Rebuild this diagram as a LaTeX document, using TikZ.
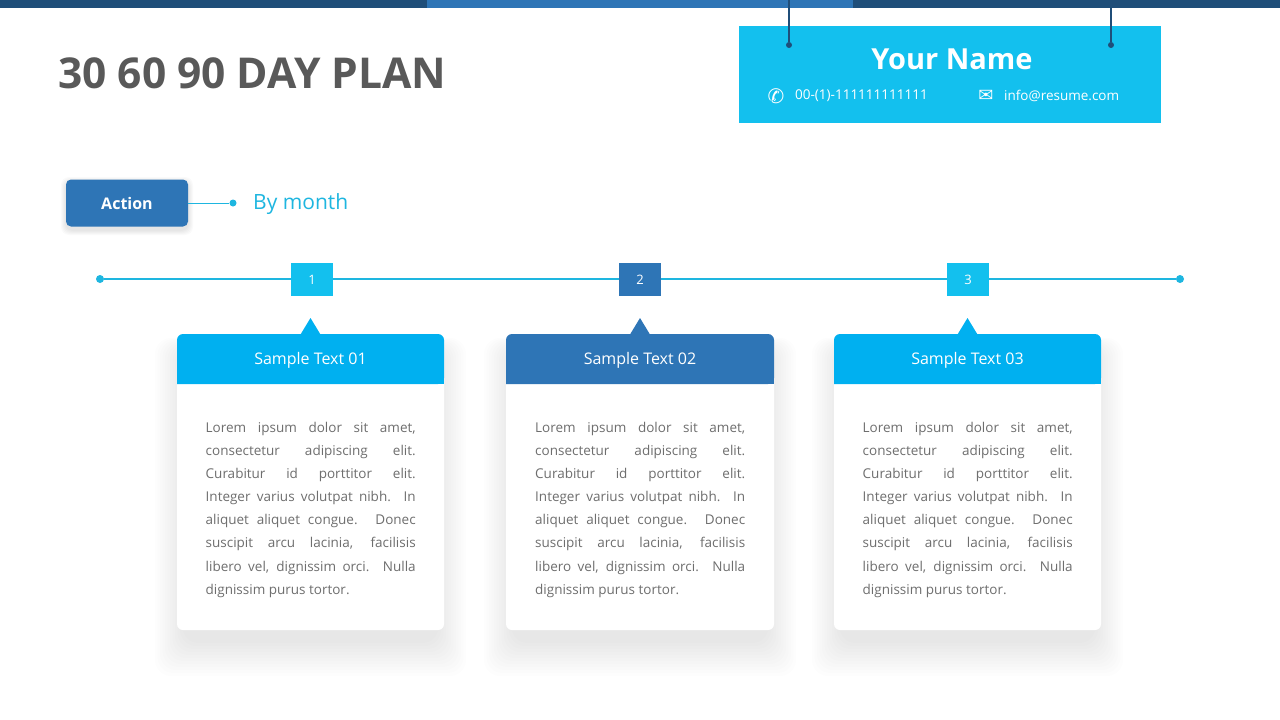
\documentclass[tikz,border=0pt]{standalone}
\usepackage{fontspec}
\setmainfont{Open Sans}
\newfontfamily\symf{DejaVu Sans}
\definecolor{navy}{HTML}{1F4E79}
\definecolor{midblue}{HTML}{2E75B6}
\definecolor{cyanA}{HTML}{13C0EE}
\definecolor{cyanB}{HTML}{00B0F0}
\definecolor{lineC}{HTML}{1EB6E0}
\definecolor{txtgrey}{HTML}{595959}
\definecolor{bodygrey}{HTML}{6E6E6E}
\tikzset{
  px/.style={x=1pt,y=-1pt},
  bodytxt/.style={text width=210pt,align=justify,anchor=north west,inner sep=0pt,text=bodygrey,font=\fontsize{13.5}{23.1}\selectfont},
  hdrtxt/.style={text=white,font=\fontsize{16}{19}\selectfont},
  numbox/.style={minimum width=42pt,minimum height=33pt,inner sep=0pt,text=white,font=\fontsize{13}{15}\selectfont},
  dotc/.style={circle,fill=lineC,inner sep=0pt,minimum size=8pt},
}
\begin{document}
\begin{tikzpicture}[px]
\useasboundingbox[fill=white] (0,0) rectangle (1280,720);
% top bar
\fill[navy] (0,0) rectangle (427,8);
\fill[midblue] (427,0) rectangle (853,8);
\fill[navy] (853,0) rectangle (1280,8);
% title
\node[anchor=west,inner sep=0pt,text=txtgrey,font=\fontsize{42.5}{48}\bfseries\selectfont] (title) at (58,73) {30 60 90 DAY PLAN};
% name box
\fill[cyanA] (739,26) rectangle (1161,123);
\coordinate (t1) at (789,0); \coordinate (t2) at (1111,0);
\node[circle,fill=navy,inner sep=0pt,minimum size=6pt] (d1) at (789,45) {};
\node[circle,fill=navy,inner sep=0pt,minimum size=6pt] (d2) at (1111,45) {};
\draw[navy,line width=1.5pt] (t1) -- (d1);
\draw[navy,line width=1.5pt] (t2) -- (d2);
\node[text=white,font=\fontsize{29}{34}\bfseries\selectfont] (nm) at (952,59) {Your Name};
\node[text=white,font=\symf\fontsize{20}{22}\selectfont] (ph) at (776,96) {✆};
\node[anchor=west,text=white,inner sep=0pt,font=\fontsize{13.5}{16}\selectfont] (pht) at (795,96) {00-(1)-111111111111};
\node[text=white,font=\symf\fontsize{18}{22}\selectfont] (em) at (986,96) {✉};
\node[anchor=west,text=white,inner sep=0pt,font=\fontsize{13.5}{16}\selectfont] (emt) at (1004,96) {info@resume.com};
% action
\foreach \k in {1,...,5}{
  \fill[black,opacity=0.02,rounded corners=8pt] (66-\k,182-\k) rectangle (188+\k,230+\k);
}
\node[fill=midblue,rounded corners=5pt,minimum width=122pt,minimum height=47pt,text=white,font=\fontsize{16}{19}\bfseries\selectfont] (act) at (127,203) {Action};
\node[circle,fill=lineC,inner sep=0pt,minimum size=7pt] (ad) at (233,203) {};
\draw[lineC,line width=1pt] (act.east) -- (ad);
\node[anchor=west,inner sep=0pt,text=lineC,font=\fontsize{21}{25}\selectfont] (bm) at (253,204) {By month};
% timeline
\node[dotc] (L) at (100,279) {};
\node[dotc] (R) at (1180,279) {};
\draw[lineC,line width=2pt] (L) -- (R);
\node[numbox,fill=cyanA] (n1) at (312,279.5) {1};
\node[numbox,fill=midblue] (n2) at (640,279.5) {2};
\node[numbox,fill=cyanA] (n3) at (968,279.5) {3};
% cards
\foreach \x/\w/\c/\t in {177/267/cyanB/01, 506/268/midblue/02, 834/267/cyanB/03}{
  \foreach \k in {1,...,12}{
    \fill[black,opacity=0.006,rounded corners=16pt] (\x+8-2.5*\k,350-\k) rectangle (\x+\w-8+2.5*\k,640+3*\k);
  }
  \fill[white,rounded corners=6pt] (\x,334) rectangle ++(\w,296);
  \fill[\c,rounded corners=6pt] (\x,384) -- (\x,334) -- (\x+\w,334) -- (\x+\w,384) [sharp corners]-- cycle;
  \fill[\c] (\x,370) rectangle (\x+\w,384);
  \fill[\c] (\x+\w/2-10,334.5) -- (\x+\w/2,318) -- (\x+\w/2+10,334.5) -- cycle;
  \node[hdrtxt] at (\x+\w/2,360) {Sample Text \t};
  \node[bodytxt] at (\x+\w/2-105,422) {\hyphenpenalty=10000 Lorem ipsum dolor sit amet,\linebreak consectetur adipiscing elit.\linebreak Curabitur id porttitor elit.\linebreak Integer varius volutpat nibh. In\linebreak aliquet aliquet congue. Donec\linebreak suscipit arcu lacinia, facilisis\linebreak libero vel, dignissim orci. Nulla\linebreak dignissim purus tortor.};
}
\end{tikzpicture}
\end{document}
